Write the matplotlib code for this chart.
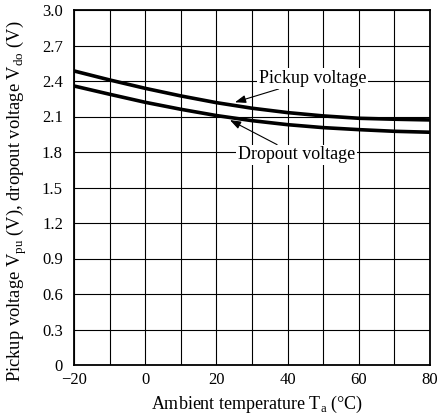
import matplotlib
matplotlib.use('Agg')
import matplotlib.pyplot as plt
import numpy as np

# Temperatura ambiente (°C) e tensões
temperatura = [-20, -10, 0, 10, 20, 30, 40, 50, 60, 70, 80]
tensao_pickup = [2.485, 2.409, 2.338, 2.274, 2.217, 2.170, 2.133, 2.105, 2.085, 2.077, 2.071]
tensao_dropout = [2.358, 2.288, 2.220, 2.161, 2.108, 2.065, 2.031, 2.006, 1.989, 1.975, 1.967]

xticks = [-20, 0, 20, 40, 60, 80]
xticklabels = ['\u221220', '0', '20', '40', '60', '80']
yticks = [0, 0.3, 0.6, 0.9, 1.2, 1.5, 1.8, 2.1, 2.4, 2.7, 3.0]
yticklabels = ['0', '0.3', '0.6', '0.9', '1.2', '1.5', '1.8', '2.1', '2.4', '2.7', '3.0']

plt.rcParams['font.family'] = 'Liberation Serif'
plt.rcParams['mathtext.fontset'] = 'custom'
plt.rcParams['mathtext.rm'] = 'Liberation Serif'
plt.rcParams['font.size'] = 13

fig = plt.figure(figsize=(4.42, 4.18), dpi=100)
ax = fig.add_axes([74 / 442, 53 / 418, 356 / 442, 355 / 418])

# grelha
for x in range(-20, 81, 10):
    ax.axvline(x, color='black', lw=0.8, zorder=1)
for y in yticks:
    ax.axhline(y, color='black', lw=0.8, zorder=1)

ax.plot(temperatura, tensao_pickup, color='black', lw=2.6, zorder=3)
ax.plot(temperatura, tensao_dropout, color='black', lw=2.6, zorder=3)

seta = dict(arrowstyle='-|>,head_length=0.5,head_width=0.18', color='black', lw=0.8,
            shrinkA=0, shrinkB=0)
ax.annotate('Pickup voltage', xy=(25.2, 2.22), xytext=(47, 2.42),
            ha='center', va='center', arrowprops=seta, zorder=4,
            bbox=dict(boxstyle='square,pad=0.1', fc='white', ec='none'))
ax.annotate('Dropout voltage', xy=(23.8, 2.07), xytext=(42.6, 1.775),
            ha='center', va='center', arrowprops=seta, zorder=4,
            bbox=dict(boxstyle='square,pad=0.1', fc='white', ec='none'))

ax.set_xlim(-20, 80)
ax.set_ylim(0, 3.0)
ax.set_xticks(xticks)
ax.set_xticklabels(xticklabels)
ax.set_yticks(yticks)
ax.set_yticklabels(yticklabels)
ax.tick_params(length=0, labelsize=12)
ax.tick_params(axis='y', pad=8)
ax.tick_params(axis='x', pad=5)
for s in ax.spines.values():
    s.set_linewidth(1.3)
    s.set_zorder(5)

ax.set_xlabel(r'Ambient temperature T$_{\rm a}$ (°C)')
ax.set_ylabel(r'Pickup voltage V$_{\rm pu}$ (V), dropout voltage V$_{\rm do}$ (V)', fontsize=13.3)
ax.xaxis.set_label_coords(0.515, -0.082)
ax.yaxis.set_label_coords(-0.125, 0.46)

fig.savefig('out.png', dpi=100)
